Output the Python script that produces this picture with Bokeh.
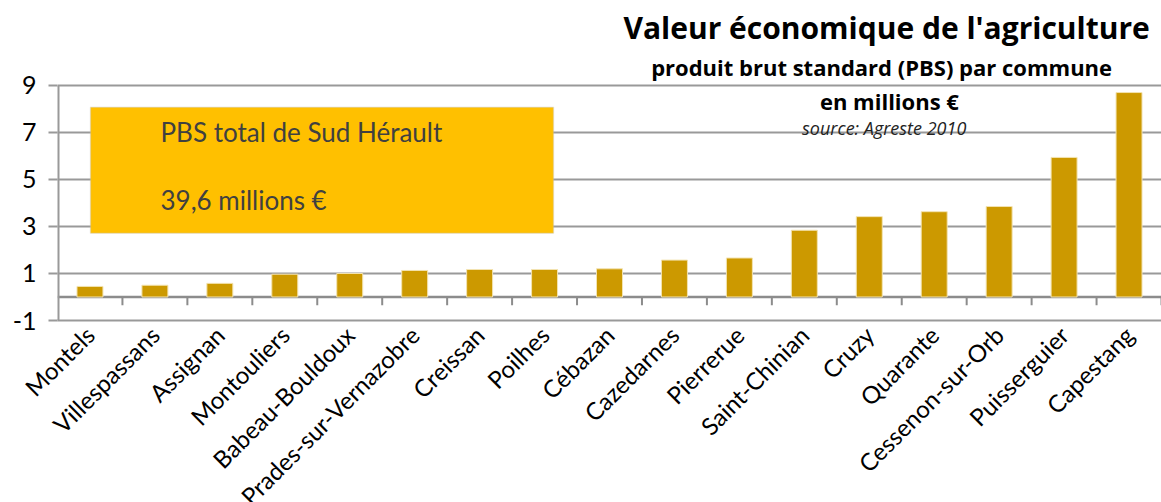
from math import pi
from bokeh.plotting import figure
from bokeh.models import (ColumnDataSource, FixedTicker, Range1d, Span, Label,
                          BoxAnnotation)
from bokeh.embed import file_html
from bokeh.resources import INLINE

# ---- data ----
communes = ["Montels", "Villespassans", "Assignan", "Montouliers", "Babeau-Bouldoux",
            "Prades-sur-Vernazobre", "Creissan", "Poilhes", "Cébazan", "Cazedarnes",
            "Pierrerue", "Saint-Chinian", "Cruzy", "Quarante", "Cessenon-sur-Orb",
            "Puisserguier", "Capestang"]
pbs = [0.45, 0.50, 0.58, 0.97, 1.00, 1.13, 1.17, 1.17, 1.20, 1.57,
       1.66, 2.84, 3.42, 3.63, 3.85, 5.94, 8.70]
y_ticks = [-1, 1, 3, 5, 7, 9]
title_text = "Valeur économique de l'agriculture"
subtitle_text = "produit brut standard (PBS) par commune"
unit_text = "en millions €"
source_text = "source: Agreste 2010"
box_line1 = "PBS total de Sud Hérault"
box_line2 = "39,6 millions €"

FONT = "Lato"
TFONT = "Open Sans"
GRID = "#999999"

n = len(communes)
centers = [i + 0.5 for i in range(n)]
bounds = list(range(1, n + 1))
y_lo, y_hi = min(y_ticks), max(y_ticks)

p = figure(output_backend="svg", toolbar_location=None,
           width=1161, height=502,
           x_range=Range1d(0, n), y_range=Range1d(y_lo, 12.617),
           min_border_left=57, min_border_right=0, min_border_top=0,
           min_border_bottom=170)
p.frame_width = 1104
p.frame_height = 320
p.outline_line_color = None
p.background_fill_color = "white"

# bars
src = ColumnDataSource(dict(x=centers, top=pbs))
p.vbar(x="x", top="top", bottom=0, width=0.4, source=src,
       fill_color="#CC9900", line_color="#F3E3B0", line_width=1)

# zero line and its category ticks
p.add_layout(Span(location=0, dimension="width", line_color="#8C8C8C",
                  line_width=2.5, level="underlay"))
p.segment(x0=bounds, y0=[0] * n, x1=bounds, y1=[-0.35] * n,
          line_color="#8C8C8C", line_width=2)

# grid
p.xgrid.visible = False
p.ygrid.ticker = FixedTicker(ticks=y_ticks)
p.ygrid.grid_line_color = GRID
p.ygrid.grid_line_width = 2

# y axis (line drawn only between -1 and 9)
p.yaxis.ticker = FixedTicker(ticks=y_ticks)
p.yaxis.major_label_overrides = {t: str(t) for t in y_ticks}
p.yaxis.axis_line_color = None
p.yaxis.major_tick_line_color = GRID
p.yaxis.major_tick_line_width = 2
p.yaxis.major_tick_in = 0
p.yaxis.major_tick_out = 9
p.yaxis.minor_tick_line_color = None
p.yaxis.major_label_text_font = FONT
p.yaxis.major_label_text_font_size = "25px"
p.yaxis.major_label_text_color = "black"
p.yaxis.major_label_standoff = 12
p.segment(x0=[0], y0=[y_lo], x1=[0], y1=[y_hi], line_color=GRID, line_width=4)

# x axis (category labels)
p.xaxis.ticker = FixedTicker(ticks=centers)
p.xaxis.major_label_overrides = {c: name for c, name in zip(centers, communes)}
p.xaxis.major_label_orientation = pi / 4
p.xaxis.major_tick_line_color = None
p.xaxis.minor_tick_line_color = None
p.xaxis.axis_line_color = GRID
p.xaxis.axis_line_width = 2
p.xaxis.major_label_text_font = FONT
p.xaxis.major_label_text_font_size = "24px"
p.xaxis.major_label_text_color = "black"
p.xaxis.major_label_standoff = 4

# info box
p.add_layout(BoxAnnotation(left=0.508, right=7.638, top=8.07, bottom=2.71,
                           fill_color="#FFC000", fill_alpha=1.0,
                           line_color="#BFBFBF", line_width=1.5))
p.add_layout(Label(x=1.586, y=7.01, text=box_line1, text_font=FONT,
                   text_font_size="26px", text_color="#404040",
                   text_baseline="middle", text_align="left"))
p.add_layout(Label(x=1.586, y=4.11, text=box_line2, text_font=FONT,
                   text_font_size="26px", text_color="#404040",
                   text_baseline="middle", text_align="left"))

# titles
p.add_layout(Label(x=16.82, y=11.47, text=title_text, text_font=TFONT,
                   text_font_size="30px", text_font_style="bold",
                   text_color="black", text_align="right", text_baseline="middle"))
p.add_layout(Label(x=12.69, y=9.77, text=subtitle_text, text_font=TFONT,
                   text_font_size="22px", text_font_style="bold",
                   text_color="black", text_align="center", text_baseline="middle"))
p.add_layout(Label(x=12.81, y=8.36, text=unit_text, text_font=TFONT,
                   text_font_size="22px", text_font_style="bold",
                   text_color="black", text_align="center", text_baseline="middle"))
p.add_layout(Label(x=12.73, y=7.21, text=source_text, text_font=TFONT,
                   text_font_size="18px", text_font_style="italic",
                   text_color="#222222", text_align="center", text_baseline="middle"))

open("out.html", "w").write(file_html(p, INLINE))
